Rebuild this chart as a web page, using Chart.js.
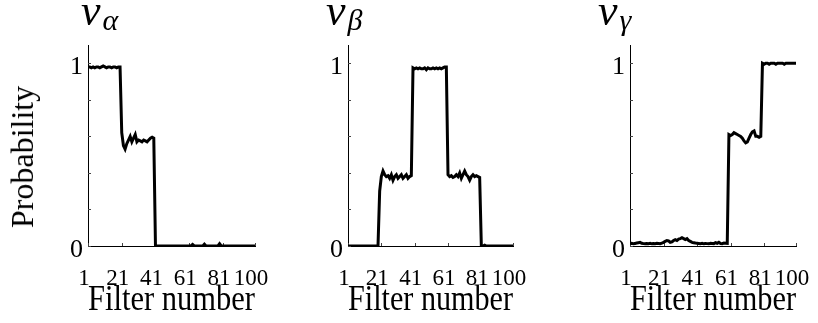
<!DOCTYPE html>
<html lang="en">
<head>
<meta charset="UTF-8">
<title>Filter probabilities</title>
<script src="https://cdn.jsdelivr.net/npm/chart.js"></script>
<style>
  body { margin: 0; width: 818px; height: 323px; background: #fff; position: relative; overflow: hidden; }
  .panel { position: absolute; top: 30px; height: 293px; }
  .ttl { position: absolute; top: -11px; font-family: "Liberation Serif", serif; font-style: italic; font-size: 44px; line-height: 1; color: #000; white-space: nowrap; }
  .ttl sub { font-size: 30px; vertical-align: baseline; position: relative; top: 5px; margin-left: 2px; }
  .ylab { position: absolute; left: 22px; top: 157px; transform: translate(-50%, -50%) rotate(-90deg); font-family: "Liberation Serif", serif; font-size: 32px; line-height: 1; color: #000; white-space: nowrap; }
</style>
</head>
<body>
<div class="panel" style="left:0px; width:272px;"><canvas id="chartAlpha"></canvas></div>
<div class="panel" style="left:290px; width:240px;"><canvas id="chartBeta"></canvas></div>
<div class="panel" style="left:570px; width:243px;"><canvas id="chartGamma"></canvas></div>

<div class="ttl" style="left:81px;">v<sub>α</sub></div>
<div class="ttl" style="left:326px;">v<sub>β</sub></div>
<div class="ttl" style="left:598px;">v<sub>γ</sub></div>
<div class="ylab">Probability</div>

<script>
// filter index 1..100
const filters = Array.from({ length: 100 }, (_, i) => i + 1);
const xTicks = [1, 21, 41, 61, 81, 100];
const yTicks = [0, 0.2, 0.4, 0.6, 0.8, 1];

// v_alpha
const probAlpha = [
  0.98, 0.98, 0.975, 0.98, 0.975, 0.98, 0.98, 0.975, 0.98, 0.985,
  0.98, 0.975, 0.98, 0.98, 0.975, 0.98, 0.98, 0.975, 0.98, 0.98,
  0.62, 0.55, 0.53, 0.56, 0.58, 0.60, 0.57, 0.59, 0.61, 0.57,
  0.58, 0.575, 0.57, 0.58, 0.575, 0.57, 0.58, 0.59, 0.595, 0.59,
  0, 0, 0, 0, 0, 0, 0, 0, 0, 0,
  0, 0, 0, 0, 0, 0, 0, 0, 0, 0,
  0, 0, 0.008, 0, 0, 0, 0, 0, 0, 0.01,
  0, 0, 0, 0, 0, 0, 0, 0, 0.012, 0,
  0, 0, 0, 0, 0, 0, 0, 0, 0, 0,
  0, 0, 0, 0, 0, 0, 0, 0, 0, 0
];

// v_beta
const probBeta = [
  0, 0, 0, 0, 0, 0, 0, 0, 0, 0,
  0, 0, 0, 0, 0, 0, 0, 0, 0, 0.30,
  0.38, 0.41, 0.39, 0.38, 0.385, 0.37, 0.39, 0.36, 0.38, 0.39,
  0.37, 0.38, 0.39, 0.37, 0.38, 0.39, 0.37, 0.38, 0.385, 0.975,
  0.97, 0.975, 0.97, 0.975, 0.97, 0.97, 0.975, 0.965, 0.975, 0.97,
  0.97, 0.975, 0.97, 0.975, 0.97, 0.975, 0.97, 0.975, 0.98, 0.98,
  0.39, 0.38, 0.385, 0.375, 0.38, 0.39, 0.38, 0.40, 0.37, 0.39,
  0.41, 0.39, 0.38, 0.36, 0.38, 0.39, 0.38, 0.385, 0.38, 0.375,
  0, 0, 0.005, 0, 0, 0, 0, 0, 0, 0,
  0, 0, 0, 0, 0, 0, 0, 0, 0, 0
];

// v_gamma
const probGamma = [
  0.013, 0.015, 0.012, 0.014, 0.016, 0.018, 0.02, 0.015, 0.013, 0.012,
  0.014, 0.013, 0.015, 0.012, 0.014, 0.013, 0.015, 0.014, 0.013, 0.016,
  0.02, 0.025, 0.03, 0.028, 0.02, 0.022, 0.03, 0.035, 0.03, 0.038,
  0.04, 0.045, 0.04, 0.035, 0.04, 0.03, 0.025, 0.02, 0.018, 0.016,
  0.015, 0.014, 0.013, 0.015, 0.012, 0.014, 0.013, 0.012, 0.015, 0.014,
  0.013, 0.018, 0.015, 0.02, 0.014, 0.013, 0.016, 0.015, 0.014, 0.61,
  0.605, 0.61, 0.62, 0.615, 0.61, 0.605, 0.60, 0.59, 0.575, 0.565,
  0.57, 0.59, 0.61, 0.625, 0.63, 0.60, 0.60, 0.595, 0.60, 1.0,
  0.995, 1.0, 1.0, 0.995, 1.0, 1.0, 1.0, 0.995, 1.0, 1.0,
  1.0, 1.0, 0.995, 1.0, 1.0, 1.0, 1.0, 1.0, 1.0, 1.0
];

// small tick marks pointing into the plot
const innerTicks = {
  id: 'innerTicks',
  beforeDatasetsDraw(chart) {
    const { ctx, chartArea } = chart;
    const xs = chart.scales.x, ys = chart.scales.y;
    ctx.save();
    ctx.strokeStyle = '#444';
    ctx.lineWidth = 1;
    ctx.beginPath();
    yTicks.forEach(v => {
      const py = Math.round(ys.getPixelForValue(v)) + 0.5;
      ctx.moveTo(chartArea.left, py);
      ctx.lineTo(chartArea.left + 3, py);
    });
    xTicks.forEach(v => {
      const px = Math.round(xs.getPixelForValue(v)) + 0.5;
      ctx.moveTo(px, chartArea.bottom);
      ctx.lineTo(px, chartArea.bottom - 3);
    });
    ctx.stroke();
    ctx.restore();
  }
};

// fixed box sizes so the plot areas line up with the figure
function noPad(s) {
  s.paddingTop = 0; s.paddingBottom = 0; s.paddingLeft = 0; s.paddingRight = 0;
}

function makeChart(id, values, yWidth, padLeft) {
  return new Chart(document.getElementById(id), {
    type: 'line',
    data: {
      datasets: [{
        data: values.map((v, i) => ({ x: filters[i], y: v })),
        borderColor: '#000',
        borderWidth: 3,
        pointRadius: 0,
        tension: 0,
        fill: false
      }]
    },
    options: {
      responsive: true,
      maintainAspectRatio: false,
      animation: false,
      layout: { padding: { left: padLeft, top: 15, right: 17, bottom: 0 } },
      plugins: { legend: { display: false }, tooltip: { enabled: false } },
      scales: {
        x: {
          type: 'linear',
          min: 1,
          max: 100,
          afterBuildTicks: s => { s.ticks = xTicks.map(v => ({ value: v })); },
          afterFit: s => { s.height = 77; noPad(s); },
          grid: { display: false, drawTicks: false },
          border: { color: '#000', width: 1 },
          ticks: {
            color: '#000',
            font: { family: 'Liberation Serif', size: 23 },
            maxRotation: 0,
            autoSkip: false,
            padding: 19,
            labelOffset: -4
          },
          title: {
            display: true,
            text: 'Filter number',
            color: '#000',
            font: { family: 'Liberation Serif', size: 36 },
            padding: { top: 0, bottom: 1 }
          }
        },
        y: {
          min: 0,
          max: 1.1,
          afterBuildTicks: s => { s.ticks = yTicks.map(v => ({ value: v })); },
          afterFit: s => { s.width = yWidth; noPad(s); },
          grid: { display: false, drawTicks: false },
          border: { color: '#000', width: 1 },
          ticks: {
            color: '#000',
            font: { family: 'Liberation Serif', size: 26 },
            padding: 5,
            labelOffset: 4,
            callback: v => (v === 0 || v === 1) ? String(v) : ''
          }
        }
      }
    },
    plugins: [innerTicks]
  });
}

makeChart('chartAlpha', probAlpha, 86, 2);
makeChart('chartBeta', probBeta, 58, 0);
makeChart('chartGamma', probGamma, 60, 0);
</script>
</body>
</html>
